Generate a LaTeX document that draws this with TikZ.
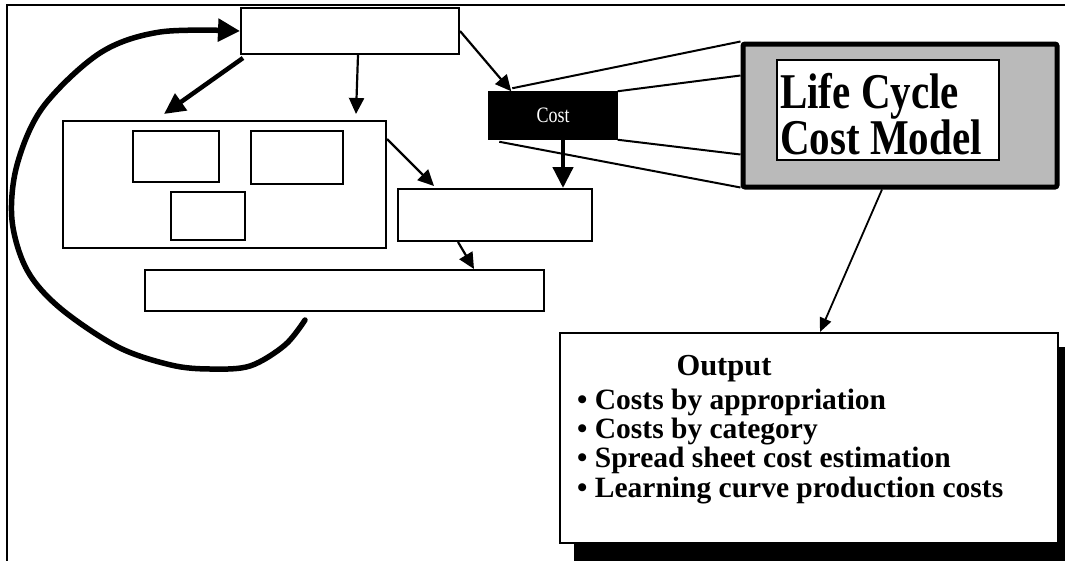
\documentclass[tikz,border=0pt]{standalone}
\usepackage{fontspec}
\setmainfont{Liberation Serif}
\usetikzlibrary{arrows.meta,calc}
\begin{document}
\begin{tikzpicture}[x=1pt,y=-1pt,
  frame/.style={draw=black, line width=2pt},
  box/.style={draw=black, line width=2pt, fill=white, inner sep=0pt},
  costbox/.style={draw=black, line width=1.5pt, fill=black, inner sep=0pt, text=white, font=\fontsize{20}{20}\selectfont},
  lccouter/.style={draw=black, line width=5pt, rounded corners=2pt, fill=black!27, inner sep=0pt},
  lccinner/.style={draw=black, line width=2pt, fill=white, inner sep=0pt},
  lcctxt/.style={inner sep=0pt, anchor=west, font=\fontsize{41}{33}\selectfont\bfseries},
  outbox/.style={draw=black, line width=2pt, fill=white, inner sep=0pt},
  outtxt/.style={inner sep=0pt, anchor=base west, font=\fontsize{29.5}{29.5}\selectfont\bfseries},
  thinarr/.style={line width=2.2pt, -{Triangle[length=16pt,width=15pt]}},
  thickarr/.style={line width=4.5pt, -{Triangle[length=21pt,width=20pt]}},
  curvearr/.style={line width=5.5pt, line cap=round, line join=round, -{Triangle[length=22pt,width=22pt]}},
  zoomline/.style={line width=2pt},
  outarr/.style={line width=1.8pt, -{Triangle[length=14pt,width=12pt]}}
]
\useasboundingbox (0,0) rectangle (1065,560);
\fill[white] (0,0) rectangle (1065,560);
\clip (0,0) rectangle (1065,560);
\draw[frame] (7,5) rectangle (1090,590);

% boxes
\node[box, minimum width=218pt, minimum height=46pt] (top) at (350,31) {};
\node[box, minimum width=323pt, minimum height=127pt] (left) at (224.5,184.5) {};
\node[box, minimum width=86pt, minimum height=51pt] (in1) at (176,156.5) {};
\node[box, minimum width=92pt, minimum height=53pt] (in2) at (297,157.5) {};
\node[box, minimum width=74pt, minimum height=48pt] (in3) at (208,216) {};
\node[box, minimum width=194pt, minimum height=52pt] (mid) at (495,215) {};
\node[box, minimum width=399pt, minimum height=41pt] (bot) at (344.5,290.5) {};
\node[costbox, minimum width=128pt, minimum height=47pt] (cost) at (553,115.5) {\scalebox{0.9}[1.1]{Cost}};

% life cycle cost model
\node[lccouter, minimum width=314pt, minimum height=143pt] (lcc) at (900,115.5) {};
\node[lccinner, minimum width=222pt, minimum height=100pt] (lcci) at (888,110) {};
\node[lcctxt] (lcct) at (780,120) {\scalebox{1}[1.22]{\begin{tabular}{@{}l@{}}Life Cycle\\Cost Model\end{tabular}}};

% output box with shadow
\fill[black] (574,347) rectangle (1090,590);
\node[outbox, minimum width=498pt, minimum height=210pt] (out) at (809,438) {};
\node[inner sep=0pt, anchor=base, font=\fontsize{30.5}{30.5}\selectfont\bfseries] (otitle) at (724,375) {Output};
\node[outtxt] (o1) at (577,409) {• Costs by appropriation};
\node[outtxt] (o2) at (577,438) {• Costs by category};
\node[outtxt] (o3) at (577,467) {• Spread sheet cost estimation};
\node[outtxt] (o4) at (577,497) {• Learning curve production costs};

% zoom lines from Cost to the model
\draw[zoomline] ($(cost.north west)+(24,-3)$) -- (lcc.north west);
\draw[zoomline] (cost.north east) -- ($(lcc.north west)+(0,34)$);
\draw[zoomline] (cost.south east) -- ($(lcc.south west)+(0,-35)$);
\draw[zoomline] ($(cost.south west)+(11,2)$) -- ($(lcc.south west)+(0,-2)$);

% arrows
\draw[thinarr] (top.east) -- ($(cost.north west)+(23,0)$);
\draw[thickarr] ($(top.south west)+(3,3)$) -- ($(left.north west)+(102,-6)$);
\draw[thinarr] ($(top.south)+(8,0)$) -- ($(left.north east)+(-31,-6)$);
\draw[thinarr] ($(left.north east)+(0,19)$) -- ($(mid.north west)+(37,-2)$);
\draw[thickarr] ($(cost.south)+(10,0)$) -- ($(mid.north east)+(-30,0)$);
\draw[thinarr] ($(mid.south)+(-37,0)$) -- ($(bot.north east)+(-71,0)$);
\draw[outarr] ($(lcc.south)+(-18,0)$) -- ($(out.north)+(11,0)$);

% feedback curve
\coordinate (cs) at (305,320);
\draw[curvearr] plot[smooth, tension=0.55] coordinates {(cs) (285,345) (250,366) (210,369) (171,365) (118,347) (60,308) (27,270) (12,220) (17,165) (43,107) (100,53) (160,32) (top.west)};
\end{tikzpicture}
\end{document}
